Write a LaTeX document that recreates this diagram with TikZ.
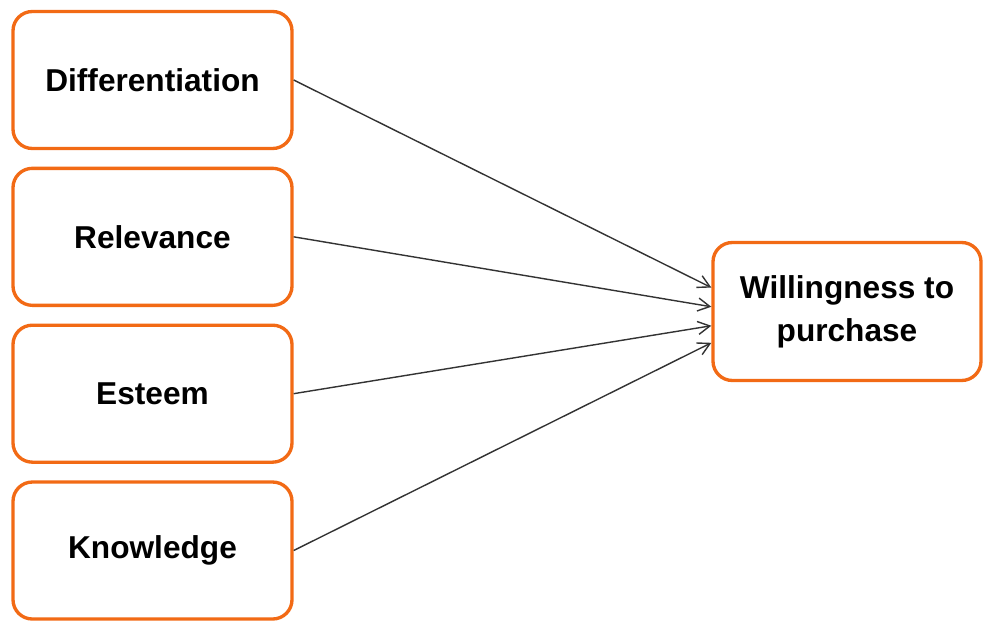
\documentclass[tikz,border=0pt]{standalone}
\usepackage{fontspec}
\setmainfont{Liberation Sans}
\usepackage{tikz}
\usetikzlibrary{positioning,arrows.meta}
\definecolor{wpOrange}{HTML}{F26A15}
\definecolor{wpLine}{HTML}{333333}
\tikzset{
  factor/.style={draw=wpOrange, line width=1.9pt, rounded corners=11pt, fill=white,
                 minimum width=5.58cm, minimum height=2.74cm, align=center,
                 font=\fontsize{18}{24.5}\selectfont\bfseries},
  link/.style={-{Straight Barb[length=2.4mm,width=2.6mm]}, line width=0.8pt, draw=wpLine},
}

\begin{document}
\begin{tikzpicture}[node distance=0.33cm]
  \useasboundingbox (0,0) rectangle (19.66,-12.42);
  \node[factor] (diff) at (3.05,-1.6) {Differentiation};
  \node[factor, below=of diff] (relev) {Relevance};
  \node[factor, below=of relev] (esteem) {Esteem};
  \node[factor, below=of esteem] (knowl) {Knowledge};
  \node[factor, minimum width=5.36cm, minimum height=2.76cm] (will) at (16.94,-6.23)
    {Willingness to\\purchase};

  \draw[link] (diff.east)--(will.170);
  \draw[link] (relev.east)--(will.178);
  \draw[link] (esteem.east)--(will.186);
  \draw[link] (knowl.east)--(will.193);
\end{tikzpicture}
\end{document}
